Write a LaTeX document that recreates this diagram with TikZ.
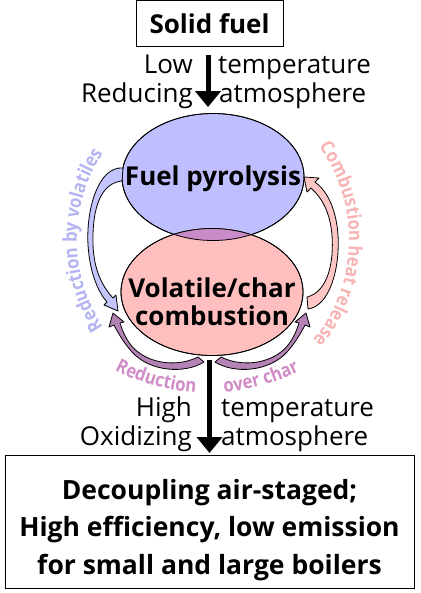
\documentclass[tikz,border=0pt]{standalone}
\usepackage{fontspec}
\setmainfont{Open Sans}
\newfontfamily\loopfam[FakeStretch=0.88]{Open Sans}
\usepackage{tikz}
\usetikzlibrary{arrows.meta,positioning,shapes.geometric,decorations.text}
\definecolor{pyrofill}{HTML}{BFBFFF}
\definecolor{combfill}{HTML}{FFBFBF}
\definecolor{overlapfill}{HTML}{CA8CC8}
\definecolor{volfill}{HTML}{C4C4FF}
\definecolor{heatfill}{HTML}{FFC6C6}
\definecolor{charfill}{HTML}{B482B4}
\definecolor{voltext}{HTML}{B4B4F2}
\definecolor{heattext}{HTML}{F8B4B4}
\definecolor{chartext}{HTML}{D08CC6}
\newcommand{\loopfont}{\loopfam\bfseries\fontsize{19}{21}\selectfont}

\begin{document}
\begin{tikzpicture}[
  x=1pt,
  y=-1pt,
  fuelbox/.style={
    draw=black,
    line width=1pt,
    minimum width=147pt,
    minimum height=46pt,
    inner sep=0pt,
    font=\bfseries\fontsize{26}{30}\selectfont
  },
  outbox/.style={
    draw=black,
    line width=1pt,
    minimum width=409pt,
    minimum height=133pt
  },
  outtext/.style={
    align=center,
    inner sep=0pt,
    font=\bfseries\fontsize{26.5}{37.5}\selectfont
  },
  stage/.style={
    ellipse,
    draw=black,
    line width=0.8pt,
    minimum width=182pt,
    minimum height=127pt,
    inner sep=0pt
  },
  stagetext/.style={
    align=center,
    inner sep=0pt,
    font=\bfseries\fontsize{26}{28}\selectfont
  },
  cond/.style={
    inner sep=0pt,
    font=\fontsize{26}{30}\selectfont
  },
  flow/.style={
    -{Triangle[length=16pt,width=25pt]},
    line width=5pt
  },
  loop/.style={
    draw=black,
    line width=0.8pt,
    line join=round
  }
]
\useasboundingbox (0,0) rectangle (420,593);

% Input box
\node[fuelbox] (fuel) at (209.5,24) {Solid fuel};

% Two reaction zones
\node[stage, fill=pyrofill] (pyro) at (213,177) {};
\node[stage, fill=combfill] (comb) at (212,292) {};
\begin{scope}
  \clip (pyro.center) ellipse[x radius=91, y radius=63.5];
  \fill[overlapfill] (comb.center) ellipse[x radius=91, y radius=63.5];
\end{scope}
\draw[line width=0.8pt] (pyro.center) ellipse[x radius=91, y radius=63.5];
\draw[line width=0.8pt] (comb.center) ellipse[x radius=91, y radius=63.5];

% Output box
\node[outbox] (outcome) at (209.5,522) {};
\node[outtext] (outtxt) at ([yshift=-8pt]outcome.center)
  {Decoupling air-staged;\\High efficiency, low emission\\for small and large boilers};

% Main flow
\coordinate (axis) at (208,0);
\coordinate (axisb) at (209.5,0);
\draw[flow, shorten <=8pt, shorten >=6pt] (fuel.south -| axis) -- (pyro.north -| axis);
\draw[flow, shorten <=4pt, shorten >=2pt] (comb.south -| axisb) -- (outcome.north -| axisb);

% Conditions beside the arrows
\node[cond, anchor=base east] (low)   at (193,74)  {Low};
\node[cond, anchor=base west] (lowt)  at (218,74)  {temperature};
\node[cond, anchor=base east] (red)   at (193,103) {Reducing};
\node[cond, anchor=base west] (reda)  at (219,103) {atmosphere};
\node[cond, anchor=base east] (high)  at (192,416) {High};
\node[cond, anchor=base west] (hight) at (221,416) {temperature};
\node[cond, anchor=base east] (oxi)   at (192,445) {Oxidizing};
\node[cond, anchor=base west] (oxia)  at (221,445) {atmosphere};

% Loop arrows
\filldraw[loop, fill=volfill]
  (123,168) .. controls (98,166) and (86,210) .. (88,245)
  .. controls (90,275) and (99,293) .. (107,302)
  -- (104,305) -- (118,311) -- (116,295) -- (113,298)
  .. controls (102,286) and (94,270) .. (93,245)
  .. controls (92,205) and (102,183) .. (122,181) -- cycle;
\filldraw[loop, fill=heatfill]
  (308,309) .. controls (330,306) and (340,268) .. (338,235)
  .. controls (336,207) and (326,190) .. (315,182)
  -- (319,178) -- (304,177) -- (307,192) -- (311,188)
  .. controls (322,198) and (330,212) .. (332,235)
  .. controls (334,262) and (328,292) .. (307,297) -- cycle;
\filldraw[loop, fill=charfill]
  (204,362) .. controls (185,374) and (150,372) .. (132,352)
  .. controls (124,343) and (118,333) .. (114,325)
  -- (109,327) -- (113,313) -- (124,322) -- (120,323)
  .. controls (124,336) and (130,346) .. (138,352)
  .. controls (155,365) and (180,366) .. (198,357) -- cycle;
\begin{scope}[shift={(419,0)}, xscale=-1]
\filldraw[loop, fill=charfill]
  (204,362) .. controls (185,374) and (150,372) .. (132,352)
  .. controls (124,343) and (118,333) .. (114,325)
  -- (109,327) -- (113,313) -- (124,322) -- (120,323)
  .. controls (124,336) and (130,346) .. (138,352)
  .. controls (155,365) and (180,366) .. (198,357) -- cycle;
\end{scope}

% Zone labels
\node[stagetext, anchor=base] (pyrotxt) at ([yshift=-9pt]pyro.center) {Fuel pyrolysis};
\node[stagetext] (combtxt) at ([yshift=-10pt]comb.center) {Volatile/char\\combustion};

% Curved labels round the loop (y upwards here)
\begin{scope}[y=1pt]
\path[decorate, decoration={text along path, text align=center,
  text={|\loopfont\color{voltext}|Reduction by volatiles}}]
  ([shift={(214,-240)}]230:137 and 148) arc[start angle=230, end angle=130, x radius=137, y radius=148];
\path[decorate, decoration={text along path, text align=center,
  text={|\loopfont\color{heattext}|Combustion heat release}}]
  ([shift={(213,-240)}]50:136 and 148) arc[start angle=50, end angle=-54, x radius=136, y radius=148];
\path[decorate, decoration={text along path, text align=center,
  text={|\loopfont\color{chartext}|Reduction}}]
  ([shift={(208,-190)}]240:203) arc[start angle=240, end angle=269.2, radius=203];
\path[decorate, decoration={text along path, text align=center,
  text={|\loopfont\color{chartext}|over char}}]
  ([shift={(208,-190)}]271:203) arc[start angle=271, end angle=300.4, radius=203];
\end{scope}

\end{tikzpicture}
\end{document}
